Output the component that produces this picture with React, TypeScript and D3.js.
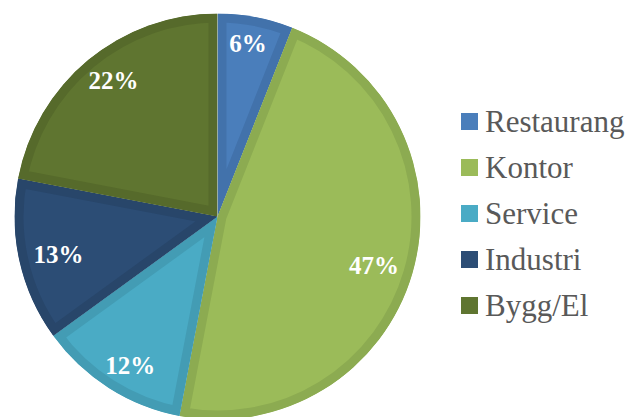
import { useMemo } from "react";
import { pie, arc, scaleOrdinal, scaleBand } from "d3";

////
// data
const CATEGORIES = ["Restaurang", "Kontor", "Service", "Industri", "Bygg/El"];
const VALUES = [6, 47, 12, 13, 22];
const COLORS = ["#4a7ebb", "#9bbb59", "#4aabc5", "#2c4d75", "#5f7530"];
const BORDERS = ["#4272ab", "#8cab51", "#439cb4", "#28466a", "#566a2b"];

/////
const OPTIONS = {
  width: 630,
  height: 417,
  cx: 217.5,
  cy: 216.5,
  radius: 203,
  border: 9,
  // label ring (wider across than tall)
  labelRx: 163,
  labelRy: 176,
  legendX: 461,
  legendY: 113,
  legendRow: 46,
  swatch: 17,
  font: "'Liberation Serif', 'Times New Roman', serif",
};

const App = () => {
  const o = OPTIONS;
  const slices = useMemo(
    () =>
      pie<number>()
        .sort(null)
        .value((d) => d)(VALUES),
    []
  );
  const path = arc<any>().innerRadius(0).outerRadius(o.radius);
  const fill = scaleOrdinal<string, string>().domain(CATEGORIES).range(COLORS);
  const edge = scaleOrdinal<string, string>().domain(CATEGORIES).range(BORDERS);
  const row = scaleBand()
    .domain(CATEGORIES)
    .range([o.legendY, o.legendY + o.legendRow * CATEGORIES.length]);

  return (
    <svg
      width={o.width}
      height={o.height}
      style={{ position: "absolute", left: 0, top: 0, background: "#fff" }}
    >
      <defs>
        {slices.map((s, i) => (
          <clipPath id={`clip-${i}`} key={i}>
            <path d={path(s) || ""} />
          </clipPath>
        ))}
      </defs>
      <g transform={`translate(${o.cx}, ${o.cy})`}>
        {slices.map((s, i) => (
          <path
            key={CATEGORIES[i]}
            d={path(s) || ""}
            fill={fill(CATEGORIES[i])}
            stroke={edge(CATEGORIES[i])}
            strokeWidth={o.border * 2}
            strokeLinejoin="miter"
            clipPath={`url(#clip-${i})`}
          />
        ))}
        {slices.map((s, i) => {
          const a = (s.startAngle + s.endAngle) / 2;
          return (
            <text
              key={"l" + i}
              x={o.labelRx * Math.sin(a)}
              y={-o.labelRy * Math.cos(a)}
              textAnchor="middle"
              dominantBaseline="central"
              fill="#fff"
              fontFamily={o.font}
              fontWeight="bold"
              fontSize={25}
            >
              {`${VALUES[i]}%`}
            </text>
          );
        })}
      </g>
      <g>
        {CATEGORIES.map((c) => (
          <g key={c} transform={`translate(${o.legendX}, ${row(c)})`}>
            <rect width={o.swatch} height={o.swatch} fill={fill(c)} />
            <text
              x={24}
              y={o.swatch + 1.5}
              fill="#595959"
              fontFamily={o.font}
              fontSize={31}
            >
              {c}
            </text>
          </g>
        ))}
      </g>
    </svg>
  );
};

export default App;
